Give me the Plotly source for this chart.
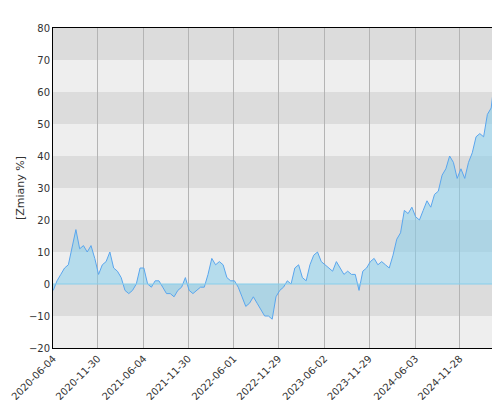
import pandas as pd
import plotly.graph_objects as go

values = [
    -2, 1, 3, 5, 6, 12, 17, 11, 12, 10, 12, 8,
    3, 6, 7, 10, 5, 4, 2, -2, -3, -2, 0, 5,
    5, 0, -1, 1, 1, -1, -3, -3, -4, -2, -1, 2,
    -2, -3, -2, -1, -1, 3, 8, 6, 7, 6, 2, 1,
    1, -1, -4, -7, -6, -4, -6, -8, -10, -10, -11, -4,
    -2, -1, 1, 0, 5, 6, 2, 1, 6, 9, 10, 7,
    6, 5, 4, 7, 5, 3, 4, 3, 3, -2, 4, 5,
    7, 8, 6, 7, 6, 5, 9, 14, 16, 23, 22, 24,
    21, 20, 23, 26, 24, 28, 29, 34, 36, 40, 38, 33,
    36, 33, 38, 41, 46, 47, 46, 53, 55, 65, 70, 62, 67,
]
dates = pd.date_range("2020-06-04", "2025-06-04", periods=len(values))

tick_dates = ["2020-06-04", "2020-11-30", "2021-06-04", "2021-11-30", "2022-06-01",
              "2022-11-29", "2023-06-02", "2023-11-29", "2024-06-03", "2024-11-28", "2025-06-04"]

fig = go.Figure()
fig.add_trace(go.Scatter(
    x=dates, y=values, mode="lines", fill="tozeroy",
    line=dict(color="#5aa6ee", width=1),
    fillcolor="rgba(135,206,235,0.55)",
))

# alternating horizontal bands
for lo in range(-20, 80, 10):
    fig.add_hrect(y0=lo, y1=lo + 10, line_width=0, layer="below",
                  fillcolor="#dcdcdc" if (lo // 10) % 2 == 1 else "#eeeeee")
fig.add_hline(y=0, line_color="#87ceeb", line_width=1)

fig.update_layout(
    width=500, height=400,
    margin=dict(l=45, r=1, t=20, b=60),
    plot_bgcolor="#eeeeee", paper_bgcolor="white",
    showlegend=False,
    font=dict(family="DejaVu Sans", size=10, color="#333"),
)
fig.update_xaxes(
    range=["2020-06-03", "2025-06-07"], tickvals=tick_dates, ticktext=tick_dates,
    tickangle=-45, showgrid=True, gridcolor="#b4b4b4", automargin=False,
    showline=True, linecolor="black", mirror=True, ticks="",
)
fig.update_yaxes(
    range=[-20, 80], dtick=10, showgrid=False, zeroline=False, automargin=False,
    title=dict(text="[Zmiany %]", standoff=2, font=dict(size=11)),
    showline=True, linecolor="black", mirror=True,
)
fig.write_html("out.html")
